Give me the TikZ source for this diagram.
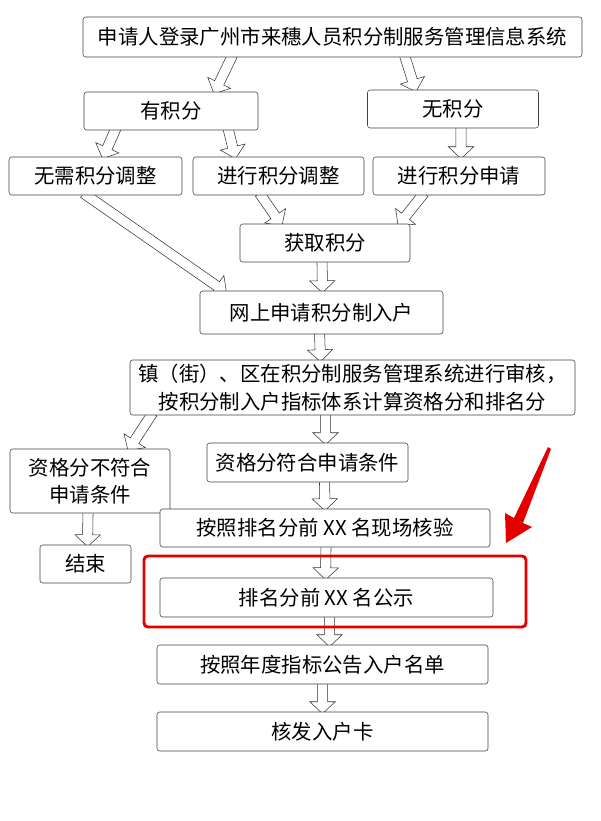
\documentclass[tikz,border=0pt]{standalone}
\usepackage{fontspec}
\setmainfont{Noto Sans CJK SC}
\usetikzlibrary{calc,backgrounds}
\tikzset{
  box/.style={draw=black!75,rounded corners=2pt,fill=white,inner sep=0pt,
    align=center,font=\fontsize{15.3}{20.5}\selectfont},
  harrow/.style={draw=black!80,fill=white,line join=miter,thin},
}
% hollow block arrow from #1 to #2
\newcommand\hollow[2]{%
  \draw[harrow] let \p1=(#1),\p2=(#2),\n1={atan2(\y2-\y1,\x2-\x1)},
    \n2={veclen(\x2-\x1,\y2-\y1)} in
    [shift={(\p1)},rotate=\n1]
    (0pt,-3.8pt)--({\n2-9pt},-3.8pt)--({\n2-9pt},-9.5pt)--(\n2,0pt)
    --({\n2-9pt},9.5pt)--({\n2-9pt},3.8pt)--(0pt,3.8pt)--cycle;}
\begin{document}
\begin{tikzpicture}[x=0.75pt,y=-0.75pt]
  \useasboundingbox (0,0) rectangle (600,821);
  \node[box,minimum width=499*0.75pt,minimum height=40*0.75pt](login)at(332.5,37){申请人登录广州市来穗人员积分制服务管理信息系统};
  \node[box,minimum width=174*0.75pt,minimum height=38*0.75pt](yes)at(171,111){有积分};
  \node[box,minimum width=171*0.75pt,minimum height=38*0.75pt](no)at(453,109){无积分};
  \node[box,minimum width=173*0.75pt,minimum height=38*0.75pt](keep)at(95.5,176){无需积分调整};
  \node[box,minimum width=171*0.75pt,minimum height=38*0.75pt](adjust)at(278.5,176){进行积分调整};
  \node[box,minimum width=172*0.75pt,minimum height=38*0.75pt](apply)at(459,176){进行积分申请};
  \node[box,minimum width=170*0.75pt,minimum height=38*0.75pt](get)at(325,243){获取积分};
  \node[box,minimum width=243*0.75pt,minimum height=43*0.75pt](online)at(321.5,312.5){网上申请积分制入户};
  \node[box,minimum width=445*0.75pt,minimum height=55*0.75pt](review)at(352.5,387.5){镇（街）、区在积分制服务管理系统进行审核，\\按积分制入户指标体系计算资格分和排名分};
  \node[box,minimum width=160*0.75pt,minimum height=64*0.75pt](fail)at(90,481){资格分不符合\\申请条件};
  \node[box,minimum width=201*0.75pt,minimum height=39*0.75pt](pass)at(307.5,462.5){资格分符合申请条件};
  \node[box,minimum width=330*0.75pt,minimum height=38*0.75pt](check)at(325,528){按照排名分前 XX 名现场核验};
  \node[box,minimum width=91*0.75pt,minimum height=38*0.75pt](stop)at(85.5,564){结束};
  \node[box,minimum width=333*0.75pt,minimum height=39*0.75pt](notice)at(326.5,597.5){排名分前 XX 名公示};
  \node[box,minimum width=331*0.75pt,minimum height=39*0.75pt](list)at(322.5,664.5){按照年度指标公告入户名单};
  \node[box,minimum width=331*0.75pt,minimum height=39*0.75pt](card)at(322.5,731.5){核发入户卡};
  \begin{scope}[on background layer]
    \hollow{$(login.south)+(-100,-2)$}{$(yes.north)+(43,2)$}
    \hollow{$(login.south)+(72,-2)$}{$(no.north)+(-37,2)$}
    \hollow{$(yes.south)+(-55,-2)$}{$(keep.north)+(7,2)$}
    \hollow{$(yes.south)+(57,-2)$}{$(adjust.north)+(-43,2)$}
    \hollow{$(no.south)+(8,-2)$}{$(apply.north)+(2,2)$}
    \hollow{$(adjust.south)+(-19,-2)$}{$(get.north)+(-43,2)$}
    \hollow{$(apply.south)+(-35,-2)$}{$(get.north)+(73,2)$}
    \hollow{$(keep.south)+(-12,-2)$}{$(online.north)+(-95,2)$}
    \hollow{$(get.south)+(-3,-2)$}{$(online.north)+(1,2)$}
    \hollow{$(online.south)+(-2,-2)$}{$(review.north)+(-32,2)$}
    \hollow{$(review.south)+(-200,-2)$}{$(fail.north)+(38,2)$}
    \hollow{$(review.south)+(-27,-2)$}{$(pass.north)+(18,2)$}
    \hollow{$(pass.south)+(17,-2)$}{$(check.north)+(0,2)$}
    \hollow{$(fail.south)+(-2,-2)$}{$(stop.north)+(2,2)$}
    \hollow{$(check.south)+(1,-2)$}{$(notice.north)+(-1,2)$}
    \hollow{$(notice.south)+(3,-2)$}{$(list.north)+(7,2)$}
    \hollow{$(list.south)+(0,-2)$}{$(card.north)+(0,2)$}
  \end{scope}
  % highlight
  \draw[red!90!black,line width=2.2pt,rounded corners=3pt](144,556)rectangle(526,627);
  \fill[red!90!black](548,447)--(551,449)--(523,523)--(532,527)--(506,543)--(505,513)--(514,518)--cycle;
\end{tikzpicture}
\end{document}
